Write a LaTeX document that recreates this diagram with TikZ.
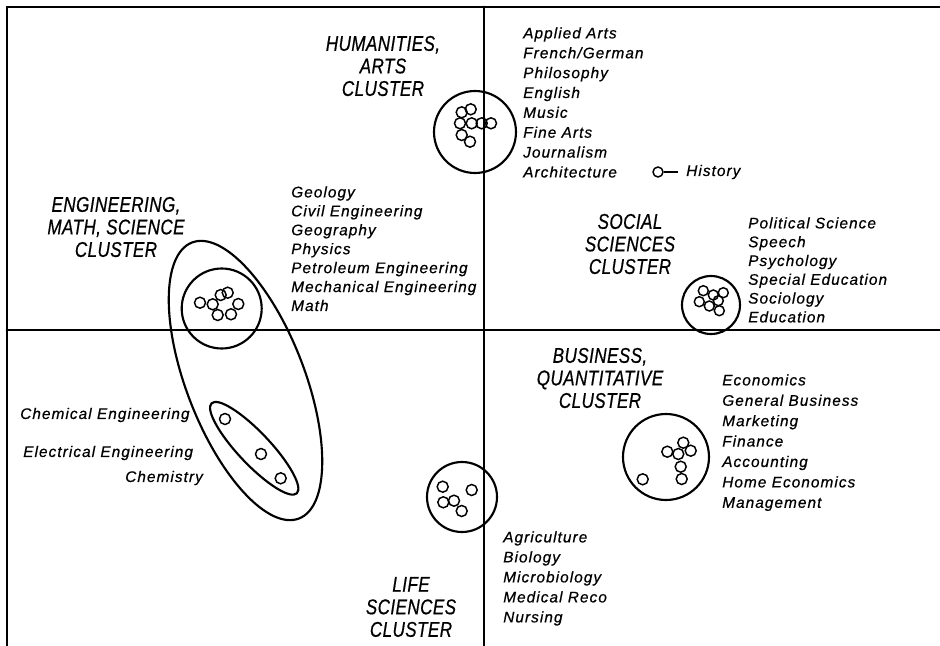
\documentclass[tikz,border=0pt]{standalone}
\usepackage{fontspec}
\setmainfont{Liberation Sans}
\newfontfamily\clusterfont[FakeStretch=0.8,LetterSpace=2,FakeBold=0.6]{Liberation Sans}
\newfontfamily\majorfont[LetterSpace=7,FakeBold=0.6]{Liberation Sans}
\usetikzlibrary{positioning}

\begin{document}
\begin{tikzpicture}[
  x=0.75pt, y=-0.75pt,
  axis/.style={line width=2.1pt, line cap=round},
  ring/.style={line width=1.6pt},
  dot/.style={line width=1.1pt},
  clab/.style={font=\clusterfont\itshape\fontsize{16}{16.9}\selectfont, align=center, inner sep=0pt},
  list/.style={font=\majorfont\itshape\fontsize{11.5}{14.9}\selectfont, align=left, inner sep=0pt, anchor=north west},
  item/.style={font=\majorfont\itshape\fontsize{11.5}{14}\selectfont, inner sep=0pt, anchor=west},
]
\useasboundingbox (0,0) rectangle (940,646);

% axes and frame
\draw[axis] (7,646) -- (7,7) -- (940,7);
\draw[axis] (484,7) -- (484,646);
\draw[axis] (7,330) -- (940,330);

% humanities, arts
\draw[ring] (475,132) circle (41);
\foreach \p in {(461.7,112.3),(470.7,109.3),(460,123.3),(471.7,123.3),(481.7,123.3),(491,123.3),(461.7,135),(470,141.7)}
  \draw[dot] \p circle (5.5);
\node[clab] (humlab) at (383,66) {HUMANITIES,\\ARTS\\CLUSTER};
\node[list] (humlist) at (523,27) {Applied Arts\\French/German\\Philosophy\\English\\Music\\Fine Arts\\Journalism\\Architecture};
\node[draw, circle, dot, inner sep=0pt, minimum size=7.5pt] (histdot) at (658,172) {};
\node[item] (histlab) at (686,172) {History};
\draw[dot, shorten >=6pt] (histdot) -- (histlab);

% engineering, math, science
\draw[ring] (221.7,308.5) circle (40);
\foreach \p in {(200,302.7),(212.7,304.3),(220.7,295),(227.7,292.7),(238.3,304),(217.7,315),(231,314.3)}
  \draw[dot] \p circle (5.5);
\draw[ring, rotate around={-68.8:(245.5,380.5)}] (245.5,380.5) ellipse (148 and 59);
\draw[ring, rotate around={-46.6:(254.2,448.3)}] (254.2,448.3) ellipse (62 and 16);
\foreach \p in {(225,419),(261,454),(280.7,478.3)}
  \draw[dot] \p circle (5.5);
\node[clab] (englab) at (116,227) {ENGINEERING,\\MATH, SCIENCE\\CLUSTER};
\node[list, font=\majorfont\itshape\fontsize{11.5}{14.2}\selectfont] (englist) at (291,186) {Geology\\Civil Engineering\\Geography\\Physics\\Petroleum Engineering\\Mechanical Engineering\\Math};
\node[item] (chemeng) at (20,415) {Chemical Engineering};
\node[item] (eleceng) at (23,453) {Electrical Engineering};
\node[item] (chem) at (125,478) {Chemistry};

% social sciences
\draw[ring] (711,305) circle (29);
\foreach \p in {(703.3,290.7),(713.3,295),(723.3,292.7),(699.3,301.7),(709.3,306),(718.3,300.7),(719.3,310.7)}
  \draw[dot] \p circle (5);
\node[clab] (soclab) at (630,244) {SOCIAL\\SCIENCES\\CLUSTER};
\node[list, font=\majorfont\itshape\fontsize{11.5}{14.1}\selectfont] (soclist) at (748,217) {Political Science\\Speech\\Psychology\\Special Education\\Sociology\\Education};

% business, quantitative
\draw[ring] (666,457) circle (43);
\foreach \p in {(667.3,451.7),(683.3,442.7),(690.7,450.7),(678.3,454),(680.7,466.7),(681.7,479),(642.7,479.3)}
  \draw[dot] \p circle (5.5);
\node[clab] (buslab) at (600,378) {BUSINESS,\\QUANTITATIVE\\CLUSTER};
\node[list, font=\majorfont\itshape\fontsize{11.5}{15.3}\selectfont] (buslist) at (722,374) {Economics\\General Business\\Marketing\\Finance\\Accounting\\Home Economics\\Management};

% life sciences
\draw[ring] (462,497) circle (35);
\foreach \p in {(442.7,486.7),(471.7,490),(443.3,502.3),(454,500.7),(461.7,511)}
  \draw[dot] \p circle (5.5);
\node[clab] (liflab) at (411,607) {LIFE\\SCIENCES\\CLUSTER};
\node[list, font=\majorfont\itshape\fontsize{11.5}{15}\selectfont] (liflist) at (503,531) {Agriculture\\Biology\\Microbiology\\Medical Reco\\Nursing};
\end{tikzpicture}
\end{document}
